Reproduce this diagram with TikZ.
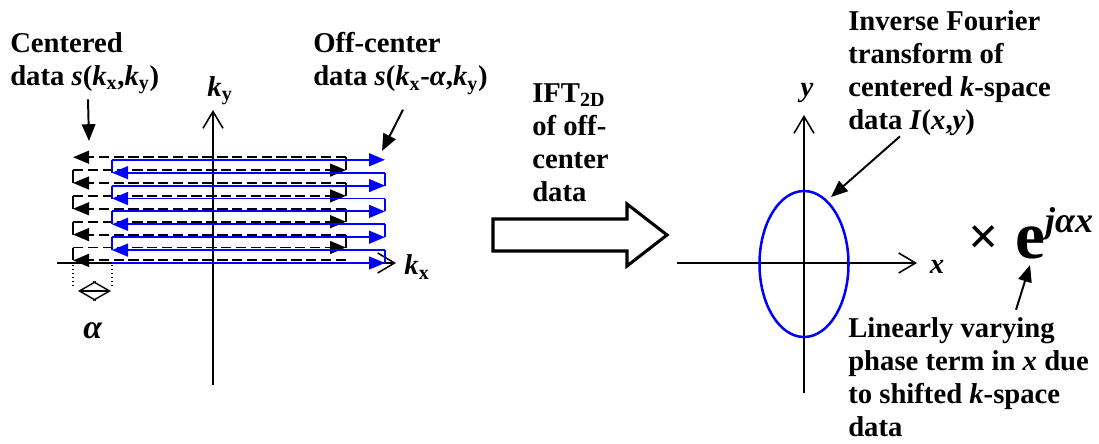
\documentclass[tikz,border=0pt]{standalone}
\usepackage{fontspec}
\setmainfont{Liberation Serif}[
  UprightFont={Liberation Serif},
  BoldFont={Liberation Serif Bold},
  ItalicFont={Liberation Serif Italic},
  BoldItalicFont={Liberation Serif Bold Italic}]
\usetikzlibrary{arrows.meta}

\tikzset{
  lbl/.style={font=\rmfamily\bfseries\fontsize{20.4}{23.5}\selectfont, inner sep=0pt},
  txt/.style={lbl, align=left, anchor=north west},
  axis/.style={line width=1.1pt, -{Straight Barb[length=0.42cm,width=0.5cm]}},
  pointer/.style={line width=1.4pt, -{Triangle[length=0.42cm,width=0.34cm]}},
  scan/.style={line width=1.4pt, -{Triangle[length=0.4cm,width=0.32cm]}},
  dashrow/.style={scan, dash pattern=on 0.26cm off 0.11cm},
  turn/.style={line width=1.4pt},
}
\newcommand{\kx}{\textit{k}\textsubscript{x}}
\newcommand{\ky}{\textit{k}\textsubscript{y}}

\begin{document}
\begin{tikzpicture}[scale=1.0]
  \useasboundingbox (0,0) rectangle (27.475,11.075);
  % k-space axes
  \draw[axis] (5.325,1.45) -- (5.325,8.325);
  \draw[axis] (1.425,4.5) -- (9.9,4.5);
  \node[lbl] (ky) at (5.5,8.8) {\ky};
  \node[lbl] (kx) at (10.425,4.4) {\kx};

  % centered data: black dashed raster, rows 0 (bottom) to 8 (top)
  \foreach \k [evaluate=\k as \yb using 4.565+\k*0.3225] in {0,2,4,6,8}
    \draw[dashrow] (8.65,\yb) -- (1.825,\yb);
  \foreach \k [evaluate=\k as \yb using 4.565+\k*0.3225] in {1,3,5,7}
    \draw[dashrow] (1.825,\yb) -- (8.65,\yb);
  \foreach \k [evaluate=\k as \yb using 4.565+\k*0.3225] in {0,2,4,6}
    \draw[turn] (1.825,\yb) -- (1.825,\yb+0.3225);
  \foreach \k [evaluate=\k as \yb using 4.565+\k*0.3225] in {1,3,5,7}
    \draw[turn] (8.65,\yb) -- (8.65,\yb+0.3225);

  % off-center data: same raster shifted by alpha, in blue
  \begin{scope}[blue]
    \foreach \k [evaluate=\k as \yb using 4.5+\k*0.3225] in {0,2,4,6,8}
      \draw[scan] (2.8,\yb) -- (9.625,\yb);
    \foreach \k [evaluate=\k as \yb using 4.5+\k*0.3225] in {1,3,5,7}
      \draw[scan] (9.625,\yb) -- (2.8,\yb);
    \foreach \k [evaluate=\k as \yb using 4.5+\k*0.3225] in {0,2,4,6}
      \draw[turn] (9.625,\yb) -- (9.625,\yb+0.3225);
    \foreach \k [evaluate=\k as \yb using 4.5+\k*0.3225] in {1,3,5,7}
      \draw[turn] (2.8,\yb) -- (2.8,\yb+0.3225);
  \end{scope}

  % the shift alpha
  \draw[dotted, line width=0.8pt] (1.825,4.45) -- (1.825,3.875);
  \draw[dotted, line width=0.8pt] (2.8,4.45) -- (2.8,3.875);
  \draw[line width=1pt, {Straight Barb[length=0.41cm,width=0.47cm]}-{Straight Barb[length=0.41cm,width=0.47cm]}]
    (1.95,3.8) -- (2.775,3.8);
  \node[lbl, font=\rmfamily\bfseries\fontsize{24}{28}\selectfont] (alpha) at (2.325,2.8) {\textit{α}};

  % labels of the two rasters
  \node[txt] (cen) at (0.25,10.265) {Centered\\data \textit{s}(\kx,\ky)};
  \node[txt] (off) at (7.825,10.265) {Off-center\\data \textit{s}(\kx-\textit{α},\ky)};
  \coordinate (centip) at (2.225,7.55);
  \coordinate (offtip) at (9.55,7.3);
  \draw[pointer] ([xshift=1.95cm,yshift=-0.12cm]cen.south west) -- (centip);
  \draw[pointer] ([xshift=2.25cm,yshift=-0.37cm]off.south west) -- (offtip);

  % IFT block arrow
  \draw[line width=2.2pt, line join=miter]
    (12.325,5.6) -- (15.675,5.6) -- (15.675,5.975) -- (16.675,5.2)
    -- (15.675,4.425) -- (15.675,4.8) -- (12.325,4.8) -- cycle;
  \node[txt] (ift) at (13.3,8.99) {IFT\textsubscript{2D}\\of off-\\center\\data};

  % image space
  \draw[axis] (20.1,1.25) -- (20.1,8.2);
  \draw[axis] (16.925,4.5) -- (22.925,4.5);
  \node[lbl] (x) at (23.425,4.4) {\textit{x}};
  \node[lbl] (y) at (20.175,8.75) {\textit{y}};
  \draw[blue, line width=1.8pt] (20.1,4.475) ellipse (1.1125 and 1.825);

  \node[txt] (inv) at (21.2,10.81)
    {Inverse Fourier\\transform of\\centered \textit{k}-space\\data \textit{I}(\textit{x},\textit{y})};
  \node[txt] (lin) at (21.2,3.14)
    {Linearly varying\\phase term in \textit{x} due\\to shifted \textit{k}-space\\data};
  \node[lbl, font=\rmfamily\bfseries\fontsize{38}{40}\selectfont] (times) at (24.6,5.075) {×};
  \node[lbl, anchor=base west] (phase) at (25.375,4.625)
    {{\fontsize{48}{50}\selectfont e}\raisebox{17.8pt}{\fontsize{25.6}{28}\selectfont\textit{jαx}}};

  \coordinate (imgtip) at (20.775,6.15);
  \coordinate (etip) at (25.75,4.45);
  \draw[pointer] ([xshift=1.3cm]inv.south west) -- (imgtip);
  \draw[pointer] ([xshift=4.2cm,yshift=0.19cm]lin.north west) -- (etip);
\end{tikzpicture}
\end{document}
